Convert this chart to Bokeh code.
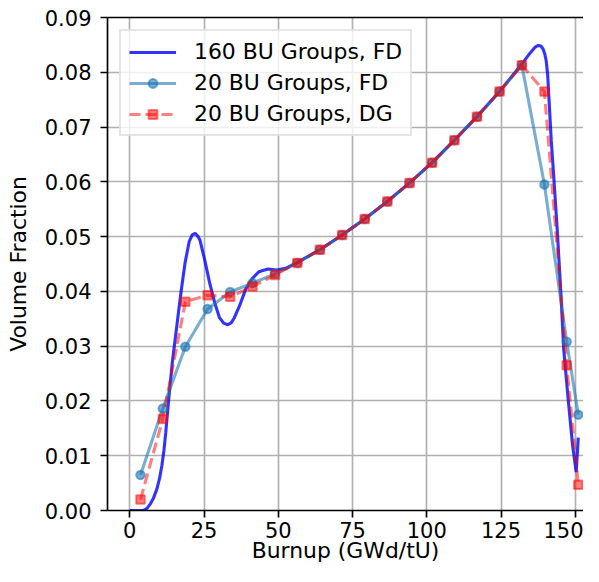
from bokeh.plotting import figure
from bokeh.models import ColumnDataSource, Legend, LegendItem, FixedTicker, LinearAxis, Range1d
from bokeh.embed import file_html
from bokeh.resources import INLINE

# ---- data ----
x160 = [0.0, 4.5, 5.8, 6.9, 8.0, 9.1, 10.0, 10.8, 11.5, 12.1, 13.2, 14.3, 15.8, 17.2, 18.6,
        20.0, 21.0, 22.0, 23.0, 23.6, 25.2, 26.9, 28.6, 30.2, 31.6, 33.0, 34.2, 35.2, 36.9,
        39.1, 41.3, 43.5, 46.5, 49.5, 52.5, 56.4, 64.0, 71.5, 79.1, 86.7, 94.2, 101.8, 109.3,
        116.9, 124.5, 132.0, 134.6, 136.5, 137.5, 138.4, 139.1, 139.7, 140.2, 140.7, 141.1,
        141.9, 142.9, 144.0, 145.2, 146.1, 147.5, 149.1, 150.3, 151.0]
fd160 = [0.0, 0.0, 0.0004, 0.0012, 0.0023, 0.0039, 0.0058, 0.0082, 0.0110, 0.0142, 0.0209,
         0.0270, 0.0336, 0.0397, 0.0452, 0.0491, 0.0503, 0.0506, 0.0500, 0.0494, 0.0458,
         0.0415, 0.0379, 0.0352, 0.0342, 0.0339, 0.0343, 0.0352, 0.0373, 0.0405, 0.0424,
         0.0436, 0.0441, 0.0439, 0.0442, 0.0453, 0.0476, 0.0503, 0.0532, 0.0564, 0.0598,
         0.0635, 0.0676, 0.0719, 0.0765, 0.0815, 0.0834, 0.0846, 0.0849, 0.0848, 0.0843,
         0.0834, 0.0821, 0.0795, 0.0755, 0.0676, 0.0597, 0.0505, 0.0391, 0.0294, 0.0209,
         0.0118, 0.0070, 0.0133]

x20 = [3.6, 11.1, 18.7, 26.2, 33.8, 41.3, 48.9, 56.4, 64.0, 71.5, 79.1, 86.7, 94.2, 101.8,
       109.3, 116.9, 124.5, 132.0, 139.6, 147.1, 151.0]
fd20 = [0.0065, 0.0186, 0.0299, 0.0368, 0.0399, 0.0415, 0.0432, 0.0452, 0.0476, 0.0503,
        0.0532, 0.0564, 0.0598, 0.0635, 0.0676, 0.0719, 0.0765, 0.0813, 0.0595, 0.0308, 0.0175]
dg20 = [0.0020, 0.0167, 0.0381, 0.0393, 0.0390, 0.0409, 0.0430, 0.0452, 0.0476, 0.0503,
        0.0532, 0.0564, 0.0598, 0.0635, 0.0676, 0.0719, 0.0765, 0.0813, 0.0765, 0.0265, 0.0047]

x_ticks = [0, 25, 50, 75, 100, 125, 150]
x_tick_labels = ["0", "25", "50", "75", "100", "125", "150"]
y_ticks = [0.0, 0.01, 0.02, 0.03, 0.04, 0.05, 0.06, 0.07, 0.08, 0.09]
y_tick_labels = ["0.00", "0.01", "0.02", "0.03", "0.04", "0.05", "0.06", "0.07", "0.08", "0.09"]

labels = ["160 BU Groups, FD", "20 BU Groups, FD", "20 BU Groups, DG"]
x_title = "Burnup (GWd/tU)"
y_title = "Volume Fraction"

FONT = "DejaVu Sans"
TICK_FS = "21px"
LAB_FS = "21.9px"

p = figure(width=583, height=566, x_range=Range1d(-7.51, 152.76), y_range=Range1d(0, 0.09),
           output_backend="svg", toolbar_location=None,
           min_border_left=107, min_border_right=0, min_border_top=17, min_border_bottom=56)
p.outline_line_color = None
p.background_fill_color = "white"
p.border_fill_color = "white"

src160 = ColumnDataSource(dict(x=x160, y=fd160))
src20 = ColumnDataSource(dict(x=x20, fd=fd20, dg=dg20))

r1 = p.line("x", "y", source=src160, line_color="blue", line_alpha=0.8, line_width=3.1)
r2l = p.line("x", "fd", source=src20, line_color="#1f77b4", line_alpha=0.6, line_width=3.1)
r2s = p.scatter("x", "fd", source=src20, marker="circle", size=8.5,
                fill_color="#1f77b4", fill_alpha=0.6, line_color="#1f77b4", line_alpha=0.6, line_width=2)
r3l = p.line("x", "dg", source=src20, line_color="red", line_alpha=0.5, line_width=3.1, line_dash="11 5")
r3s = p.scatter("x", "dg", source=src20, marker="square", size=8.5,
                fill_color="red", fill_alpha=0.5, line_color="red", line_alpha=0.5, line_width=2)

xt = FixedTicker(ticks=x_ticks)
yt = FixedTicker(ticks=y_ticks)
p.xaxis.ticker = xt
p.yaxis.ticker = yt
p.xaxis.major_label_overrides = {t: s for t, s in zip(x_ticks, x_tick_labels)}
p.yaxis.major_label_overrides = {t: s for t, s in zip(y_ticks, y_tick_labels)}
p.xgrid.ticker = xt
p.ygrid.ticker = yt
for g in (p.xgrid, p.ygrid):
    g.grid_line_color = "#b0b0b0"
    g.grid_line_width = 1.67

p.xaxis.axis_label = x_title
p.yaxis.axis_label = y_title
for ax in (p.xaxis, p.yaxis):
    ax.axis_line_width = 1.67
    ax.axis_line_color = "black"
    ax.major_tick_line_width = 1.67
    ax.major_tick_line_color = "black"
    ax.major_tick_out = 7
    ax.major_tick_in = 0
    ax.minor_tick_line_color = None
    ax.major_label_text_font = FONT
    ax.major_label_text_font_size = TICK_FS
    ax.major_label_text_color = "black"
    ax.axis_label_text_font = FONT
    ax.axis_label_text_font_size = LAB_FS
    ax.axis_label_text_font_style = "normal"
    ax.axis_label_text_color = "black"
p.xaxis.major_label_standoff = 4
p.xaxis.axis_label_standoff = -3
p.yaxis.major_label_standoff = 9
p.yaxis.axis_label_standoff = 11

top = LinearAxis(ticker=FixedTicker(ticks=[]), axis_line_width=1.67, axis_line_color="black",
                 major_tick_line_color=None, minor_tick_line_color=None,
                 major_label_text_font_size="0px", major_label_standoff=0)
p.add_layout(top, "above")

legend = Legend(items=[LegendItem(label=labels[0], renderers=[r1]),
                       LegendItem(label=labels[1], renderers=[r2l, r2s]),
                       LegendItem(label=labels[2], renderers=[r3l, r3s])],
                location="top_left")
legend.margin = 12
legend.padding = 8
legend.spacing = 6
legend.glyph_width = 47
legend.glyph_height = 22
legend.label_standoff = 18
legend.label_text_font = FONT
legend.label_text_font_size = LAB_FS
legend.label_text_color = "black"
legend.border_line_color = "#cccccc"
legend.border_line_width = 2
legend.background_fill_color = "white"
legend.background_fill_alpha = 0.8
p.add_layout(legend)

open("out.html", "w").write(file_html(p, INLINE))
